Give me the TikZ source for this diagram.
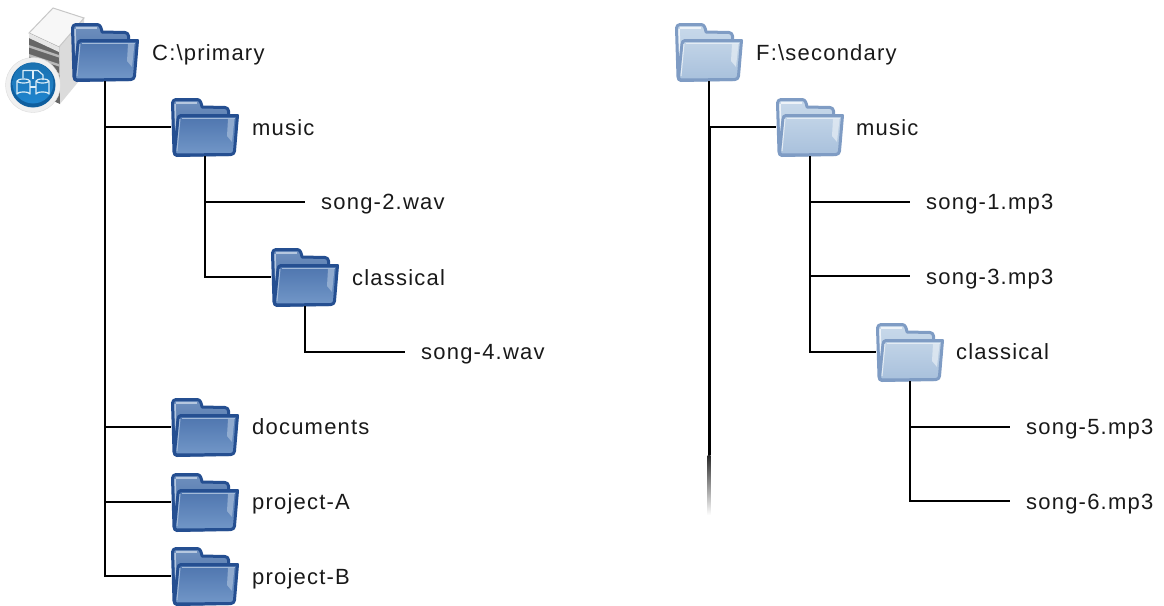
\documentclass[tikz,border=0pt]{standalone}
\usepackage{fontspec}
\setmainfont[LetterSpace=5.5]{Liberation Sans}
\definecolor{pLine}{HTML}{254F91}
\definecolor{pBackT}{HTML}{6F90BE}
\definecolor{pBackB}{HTML}{3F66A2}
\definecolor{pBackHi}{HTML}{B5C7DF}
\definecolor{pTop}{HTML}{4E75AE}
\definecolor{pBot}{HTML}{7297C8}
\definecolor{pHi}{HTML}{A3BAD8}
\definecolor{sLine}{HTML}{7F9CC4}
\definecolor{sBackT}{HTML}{C8D9EA}
\definecolor{sBackB}{HTML}{AFC6DF}
\definecolor{sBackHi}{HTML}{EEF3F8}
\definecolor{sTop}{HTML}{C2D4E7}
\definecolor{sBot}{HTML}{A8C0DC}
\definecolor{sHi}{HTML}{E4ECF4}
\definecolor{iconRing}{HTML}{F0F0F0}
\definecolor{iconDark}{HTML}{0F5E9E}
\definecolor{iconBlue}{HTML}{1F85CF}
\definecolor{iconGlyph}{HTML}{DCEEF8}
\tikzset{
  folderbox/.style={minimum width=68pt,minimum height=58pt,inner sep=0pt,outer sep=0pt,anchor=north west},
  label/.style={anchor=base west,inner sep=0pt,font=\fontsize{22}{26}\selectfont,text=black!90},
  link/.style={draw=black,line width=2pt},
  linkthick/.style={draw=black,line width=3pt},
  glyph/.style={draw=iconGlyph,line width=1.2pt,line join=round},
}
% #1 name, #2 x, #3 y, #4 prefix of colours (p/s)
\newcommand{\folderart}[4]{%
  \node[folderbox] (#1) at (#2,#3) {};
  \begin{scope}[shift={(#2,#3)}]
    \draw[draw=#4Line,line width=3pt,line join=round,top color=#4BackT,bottom color=#4BackB]
      (5,1.5) -- (26,1.5) to[out=0,in=100] (31,9) -- (54,9.5) to[out=0,in=90] (57.5,13) -- (57.5,56.5) -- (6,57.5)
      to[out=180,in=-90] (3,54) -- (1.5,5) to[out=90,in=180] cycle;
    \draw[#4BackHi,line width=1.5pt] (5,5) -- (26,5);
    \draw[#4BackHi,line width=1.5pt] (4,6) -- (5,34);
    \draw[draw=#4Line,line width=3pt,line join=round,top color=#4Top,bottom color=#4Bot]
      (10,17.5) -- (66.5,17.5) -- (63.5,53) to[out=-90,in=0] (60,56.5) -- (6,57) to[out=180,in=-90] (3.5,54) -- (7,21) to[out=90,in=180] cycle;
    \draw[#4Hi,line width=1pt] (10.5,20) -- (63.5,20);
    \draw[#4Hi,line width=1pt] (9,21) -- (6,53);
    \fill[#4Hi,opacity=.75] (57,21) -- (63.5,21) -- (61,44) -- (56,38) -- cycle;
  \end{scope}}
\begin{document}
\begin{tikzpicture}[x=1pt,y=-1pt]
\useasboundingbox (0,0) rectangle (1164,605);
% server icon
\fill[black!14] (59,47) -- (84,18) -- (84,75) -- (60,104) -- cycle;
\draw[black!22,line width=1pt,fill=white!97!black] (53,8) -- (84,18) -- (59,47) -- (29,33) -- cycle;
\fill[black!60] (29,33) -- (59,47) -- (60,104) -- (29,90) -- cycle;
\fill[black!10] (29,33) -- (59,47) -- (59,52) -- (29,38) -- cycle;
\foreach \a in {45,54,63} {\fill[black!28] (29,\a) -- (59,\a+10) -- (59,\a+12.5) -- (29,\a+2.5) -- cycle;}
\fill[iconRing,draw=black!14] (33,85) circle (27.5);
\fill[iconDark] (33,85) circle (22.5);
\shade[top color=iconBlue!85!black,bottom color=iconBlue] (33,83) circle (20.5);
\draw[glyph] (23,78) -- (23,70.5) -- (38,70.5) -- (43,75) -- (43,80);
\draw[glyph] (17,81) -- (17,94) arc[start angle=180,end angle=360,x radius=6.5,y radius=2] -- (30,81) arc[start angle=0,end angle=360,x radius=6.5,y radius=2];
\draw[glyph] (36,81) -- (36,94) arc[start angle=180,end angle=360,x radius=6.5,y radius=2] -- (49,81) arc[start angle=0,end angle=360,x radius=6.5,y radius=2];
\draw[glyph] (30,87) -- (36,87) (33,71) -- (33,79);
% folders
\folderart{root}{71}{23}{p}
\folderart{pmusic}{171}{98}{p}
\folderart{pclassical}{271}{248}{p}
\folderart{pdocs}{171}{398}{p}
\folderart{pa}{171}{473}{p}
\folderart{pb}{171}{547}{p}
\folderart{sroot}{675}{23}{s}
\folderart{smusic}{776}{98}{s}
\folderart{sclassical}{876}{323}{s}
% labels
\node[label] (lroot) at (152,60) {C:\textbackslash primary};
\node[label] (lmusic) at (252,135) {music};
\node[label] (s2) at (321,209) {song-2.wav};
\node[label] (lclassical) at (352,285) {classical};
\node[label] (s4) at (421,359) {song-4.wav};
\node[label] (ldocs) at (252,434) {documents};
\node[label] (la) at (252,509) {project-A};
\node[label] (lb) at (252,584) {project-B};
\node[label] (lsroot) at (756,60) {F:\textbackslash secondary};
\node[label] (lsmusic) at (856,135) {music};
\node[label] (s1) at (926,209) {song-1.mp3};
\node[label] (s3) at (926,284) {song-3.mp3};
\node[label] (lsclassical) at (956,359) {classical};
\node[label] (s5) at (1026,434) {song-5.mp3};
\node[label] (s6) at (1026,509) {song-6.mp3};
% leaf ends
\coordinate (e2) at ([shift={(-16pt,7pt)}]s2.base west);
\coordinate (e4) at ([shift={(-16pt,7pt)}]s4.base west);
\coordinate (e1) at ([shift={(-16pt,7pt)}]s1.base west);
\coordinate (e3) at ([shift={(-16pt,8pt)}]s3.base west);
\coordinate (e5) at ([shift={(-16pt,7pt)}]s5.base west);
\coordinate (e6) at ([shift={(-16pt,8pt)}]s6.base west);
% connectors
\draw[link] (root.south) |- (pmusic.west);
\draw[link] (root.south) |- (pdocs.west);
\draw[link] (root.south) |- (pa.west);
\draw[link] (root.south) |- (pb.west);
\draw[link] (pmusic.south) |- (e2);
\draw[link] (pmusic.south) |- (pclassical.west);
\draw[link] (pclassical.south) |- (e4);
\coordinate (fadestart) at ([yshift=-374pt]sroot.south);
\coordinate (fadeend) at ([yshift=-434pt]sroot.south);
\draw[link] (sroot.south) |- (smusic.west);
\draw[linkthick] (sroot.south |- smusic.west) -- (fadestart);
\draw[link] (smusic.south) |- (e1);
\draw[link] (smusic.south) |- (e3);
\draw[link] (smusic.south) |- (sclassical.west);
\draw[link] (sclassical.south) |- (e5);
\draw[link] (sclassical.south) |- (e6);
\shade[top color=black!85,bottom color=white] ([xshift=-1.5pt]fadestart) rectangle ([xshift=1.5pt]fadeend);
\end{tikzpicture}
\end{document}
